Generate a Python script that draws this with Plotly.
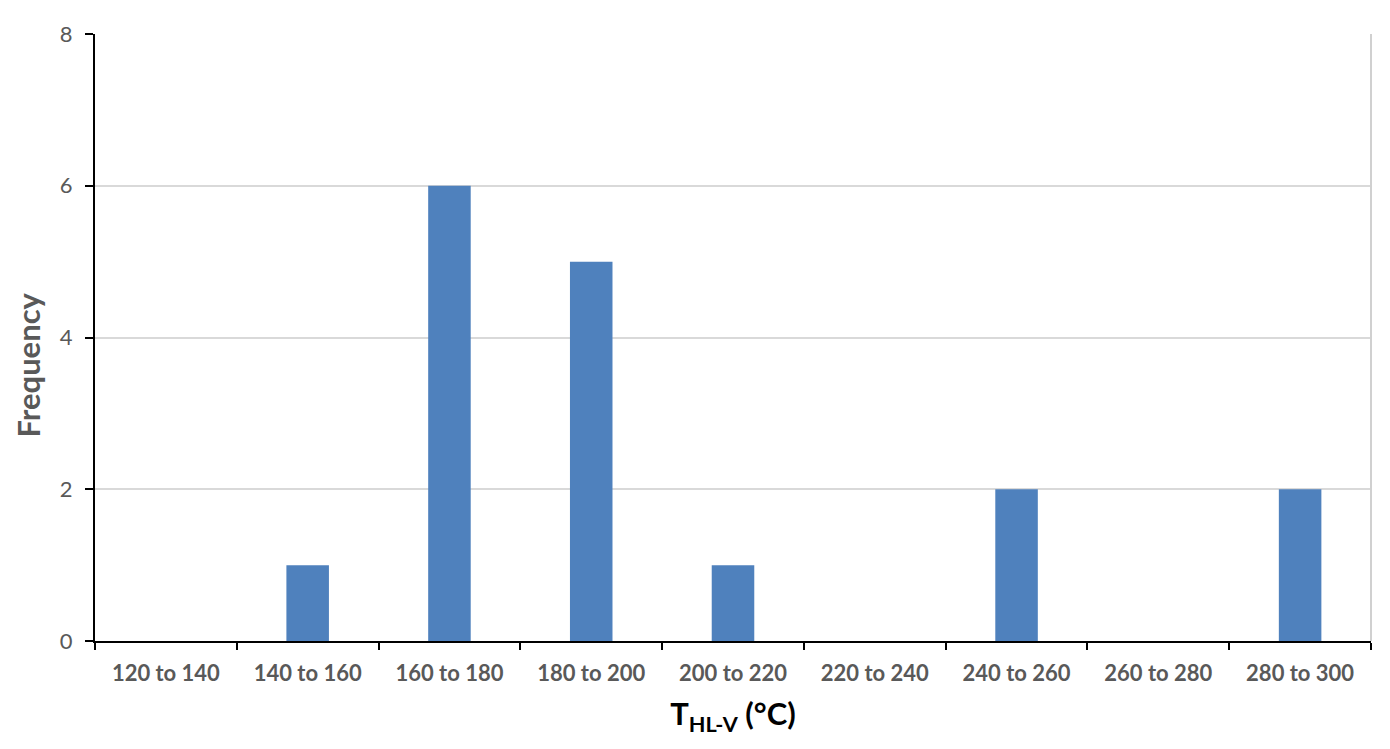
import plotly.graph_objects as go

categories = ["120 to 140", "140 to 160", "160 to 180", "180 to 200", "200 to 220",
              "220 to 240", "240 to 260", "260 to 280", "280 to 300"]
frequency = [0, 1, 6, 5, 1, 0, 2, 0, 2]
y_ticks = [0, 2, 4, 6, 8]

FONT = "Lato"
GRAY = "#595959"

fig = go.Figure(go.Bar(x=categories, y=frequency, marker=dict(color="#4F81BD", line=dict(width=0)),
                       width=0.3))

fig.update_layout(
    width=1390, height=749,
    margin=dict(l=87, r=27, t=19, b=116),
    paper_bgcolor="white", plot_bgcolor="white",
    showlegend=False,
    font=dict(family=FONT, color=GRAY),
)
fig.update_xaxes(
    type="category",
    tickson="boundaries", ticks="outside", ticklen=7, tickwidth=2, tickcolor="black",
    showline=True, linecolor="black", linewidth=2,
    showgrid=False,
    ticklabelstandoff=12,
    tickfont=dict(family=FONT, size=22, color=GRAY, weight="bold"),
    title=dict(text="T<sub>HL-V</sub> (°C)", font=dict(family=FONT, size=31, color="black", weight="bold"),
               standoff=18),
)
fig.update_yaxes(
    range=[0, 8], tickvals=y_ticks,
    ticks="outside", ticklen=8, tickwidth=2, tickcolor="black",
    showline=True, linecolor="black", linewidth=2,
    showgrid=True, gridcolor="#D9D9D9", gridwidth=1.5,
    zeroline=False,
    ticklabelstandoff=8,
    tickfont=dict(family=FONT, size=22, color=GRAY),
)
fig.add_annotation(text="Frequency", xref="paper", yref="paper", x=0, y=0.454,
                   xanchor="center", yanchor="middle", xshift=-67, textangle=-90,
                   showarrow=False, font=dict(family=FONT, size=31, color=GRAY, weight="bold"))
fig.add_shape(type="line", xref="paper", yref="paper", x0=1, x1=1, y0=0, y1=1,
              line=dict(color="#D0D0D0", width=2))

fig.write_html("out.html")
